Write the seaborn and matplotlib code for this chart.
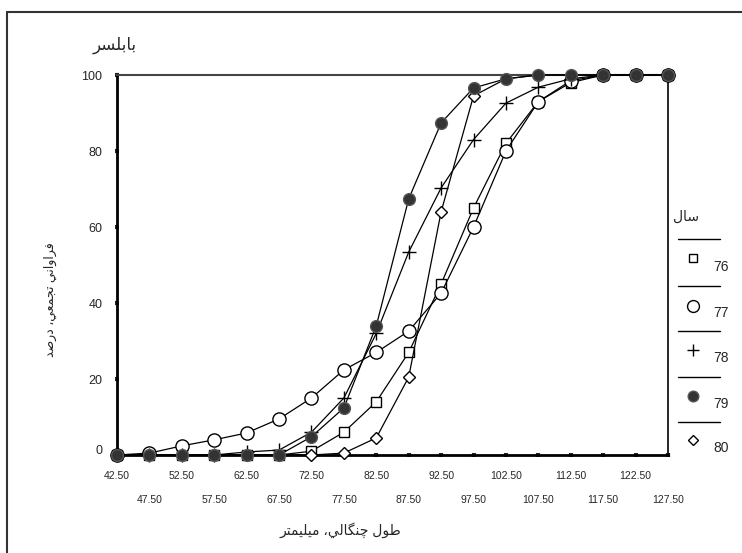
import matplotlib
matplotlib.use('Agg')
import matplotlib.pyplot as plt
import matplotlib.transforms as mtransforms
from matplotlib.lines import Line2D
import seaborn as sns
import pandas as pd

sns.set_theme(style='white')
plt.rcParams['font.family'] = ['Liberation Sans', 'DejaVu Sans']

# fork length class marks (mm)
lengths = [42.5, 47.5, 52.5, 57.5, 62.5, 67.5, 72.5, 77.5, 82.5, 87.5,
           92.5, 97.5, 102.5, 107.5, 112.5, 117.5, 122.5, 127.5]
years = ['76', '77', '78', '79', '80']
# cumulative frequency, percent
y76 = [0, 0, 0, 0, 0, 0, 1, 6, 14, 27, 45, 65, 82, 93, 98, 100, 100, 100]
y77 = [0, 0.5, 2.4, 4, 5.8, 9.5, 15, 22.4, 27, 32.6, 42.6, 60, 80, 93, 98.5, 100, 100, 100]
y78 = [0, 0, 0, 0, 0.8, 1.3, 6, 15, 32, 53.4, 70.3, 83, 92.6, 96.8, 99, 100, 100, 100]
y79 = [0, 0, 0, 0, 0, 0, 4.8, 12.4, 34, 67.4, 87.4, 96.6, 99, 100, 100, 100, 100, 100]
y80 = [0, 0, 0, 0, 0, 0, 0, 0.5, 4.5, 20.5, 64, 94.5, 99, 100, 100, 100, 100, 100]

title_txt = 'بابلسر'
xlabel_txt = 'طول چنگالي، ميليمتر'
ylabel_txt = 'فراواني تجمعي، درصد'
legend_title = 'سال'

# matplotlib does no arabic shaping, so map letters to presentation forms
# (isolated, final, initial, medial); right-joining letters have only two
FORMS = {
    'ا': ('\ufe8d', '\ufe8e'), 'د': ('\ufea9', '\ufeaa'),
    'ر': ('\ufead', '\ufeae'), 'و': ('\ufeed', '\ufeee'),
    'ب': ('\ufe8f', '\ufe90', '\ufe91', '\ufe92'),
    'ت': ('\ufe95', '\ufe96', '\ufe97', '\ufe98'),
    'ج': ('\ufe9d', '\ufe9e', '\ufe9f', '\ufea0'),
    'س': ('\ufeb1', '\ufeb2', '\ufeb3', '\ufeb4'),
    'ص': ('\ufeb9', '\ufeba', '\ufebb', '\ufebc'),
    'ط': ('\ufec1', '\ufec2', '\ufec3', '\ufec4'),
    'ع': ('\ufec9', '\ufeca', '\ufecb', '\ufecc'),
    'ف': ('\ufed1', '\ufed2', '\ufed3', '\ufed4'),
    'ل': ('\ufedd', '\ufede', '\ufedf', '\ufee0'),
    'م': ('\ufee1', '\ufee2', '\ufee3', '\ufee4'),
    'ن': ('\ufee5', '\ufee6', '\ufee7', '\ufee8'),
    'ي': ('\ufef1', '\ufef2', '\ufef3', '\ufef4'),
    'چ': ('\ufb7a', '\ufb7b', '\ufb7c', '\ufb7d'),
    'گ': ('\ufb92', '\ufb93', '\ufb94', '\ufb95'),
}


def shape(text):
    out = []
    for i, ch in enumerate(text):
        if ch not in FORMS:
            out.append(ch)
            continue
        prev = text[i - 1] if i > 0 else ''
        nxt = text[i + 1] if i < len(text) - 1 else ''
        join_prev = prev in FORMS and len(FORMS[prev]) == 4
        join_next = nxt in FORMS and len(FORMS[ch]) == 4
        f = FORMS[ch]
        if join_prev and join_next:
            out.append(f[3])
        elif join_prev:
            out.append(f[1])
        elif join_next:
            out.append(f[2])
        else:
            out.append(f[0])
    return ''.join(out)[::-1]


W, H = 742, 553
fig = plt.figure(figsize=(W / 100, H / 100), dpi=100)
ax = fig.add_axes([117 / W, 1 - 455 / H, (668 - 117) / W, (455 - 75) / H])

styles = {
    '76': dict(marker='s', ms=6.5, mfc='white', mec='black', mew=1.0),
    '77': dict(marker='o', ms=9.5, mfc='white', mec='black', mew=1.0),
    '78': dict(marker='+', ms=10, mec='black', mew=1.0),
    '79': dict(marker='o', ms=8.5, mfc='#333333', mec='#555555', mew=1.0),
    '80': dict(marker='D', ms=6, mfc='white', mec='black', mew=1.0),
}
series = {'76': y76, '77': y77, '78': y78, '79': y79, '80': y80}

# 79 drawn last so its filled dots sit on top, as in the original
for yr in ['76', '77', '78', '80', '79']:
    df = pd.DataFrame({'x': lengths, 'y': series[yr]})
    sns.lineplot(data=df, x='x', y='y', ax=ax, color='black', lw=0.9,
                 clip_on=False, zorder=3, **styles[yr])

ax.set_xlim(42.5, 127.5)
ax.set_ylim(0, 100)
ax.set_xlabel('')
ax.set_ylabel('')

ax.set_xticks(lengths[0::2])
ax.set_xticklabels([f'{v:.2f}' for v in lengths[0::2]], fontsize=7.5)
ax.set_xticks(lengths[1::2], minor=True)
ax.set_xticklabels([f'{v:.2f}' for v in lengths[1::2]], minor=True, fontsize=7.5)
ax.tick_params(axis='x', which='major', pad=10, length=3, width=3,
               direction='inout', color='#222222', bottom=True)
ax.tick_params(axis='x', which='minor', pad=27, length=3, width=3,
               direction='inout', color='#222222', bottom=True)
ax.set_yticks([0, 20, 40, 60, 80, 100])
ax.set_yticklabels(['0', '20', '40', '60', '80', '100'], fontsize=9)
ax.tick_params(axis='y', pad=9, length=3, width=3, direction='inout',
               color='#222222', left=True)
# excel puts the "0" a bit higher
lab0 = ax.get_yticklabels()[0]
lab0.set_transform(lab0.get_transform() +
                   mtransforms.ScaledTranslation(0, 6 / 100, fig.dpi_scale_trans))

for side in ['left', 'bottom', 'right', 'top']:
    ax.spines[side].set_visible(True)
ax.spines['left'].set_linewidth(2)
ax.spines['left'].set_color('black')
ax.spines['bottom'].set_linewidth(2)
ax.spines['bottom'].set_color('black')
ax.spines['right'].set_linewidth(1.2)
ax.spines['right'].set_color('black')
ax.spines['top'].set_linewidth(1.5)
ax.spines['top'].set_color('#444444')
ax.grid(False)

fig.text(115 / W, 1 - 45 / H, shape(title_txt), fontsize=12, ha='center', va='center')
fig.text(340 / W, 1 - 530 / H, shape(xlabel_txt), fontsize=10, ha='center', va='center')
fig.text(50 / W, 1 - 300 / H, shape(ylabel_txt), fontsize=9, ha='center', va='center',
         rotation=90)

# legend: title, separators, markers, labels
fig.text(686 / W, 1 - 217 / H, shape(legend_title), fontsize=10, ha='center', va='center')
for ys in [239, 286, 331, 377, 422]:
    fig.add_artist(Line2D([678 / W, 720 / W], [1 - ys / H, 1 - ys / H],
                          color='black', lw=1))
mk_y = [258, 306, 350, 396, 440]
lab_y = [267, 313, 358, 404, 448]
for yr, my, ly in zip(years, mk_y, lab_y):
    st = dict(styles[yr])
    st['ms'] = st['ms'] * 0.9
    fig.add_artist(Line2D([693 / W], [1 - my / H], linestyle='none', **st))
    fig.text(713 / W, 1 - ly / H, yr, fontsize=10, ha='left', va='center')

# outer chart frame (left and top edges visible)
fig.add_artist(Line2D([7 / W, 7 / W], [0, 1 - 12 / H], color='#333333', lw=1.5))
fig.add_artist(Line2D([7 / W, 1], [1 - 12 / H, 1 - 12 / H], color='#333333', lw=1.5))

fig.savefig('out.png', dpi=100)
